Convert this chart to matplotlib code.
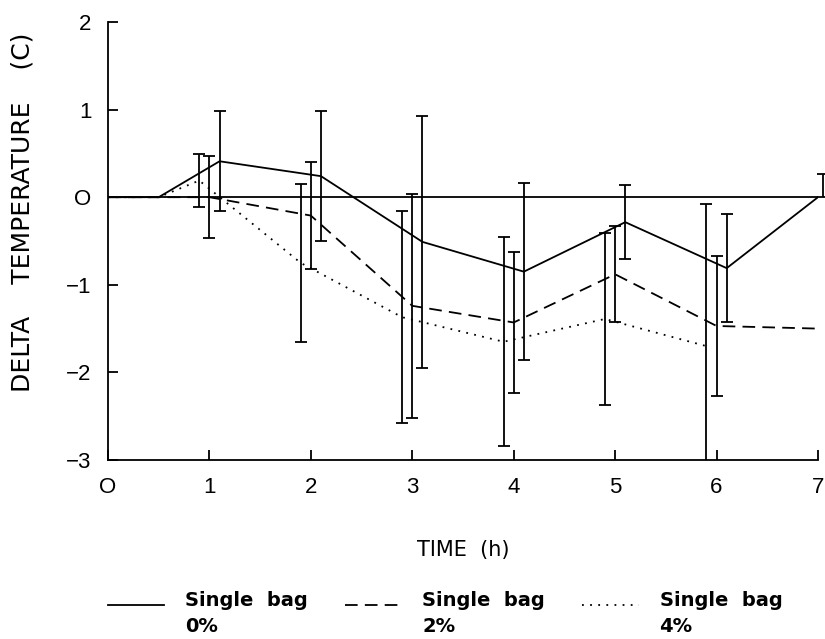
import matplotlib
matplotlib.use("Agg")
import matplotlib.pyplot as plt

plt.rcParams['font.family'] = ['Liberation Sans', 'DejaVu Sans']

# time points (h) for each series, offset slightly so the error bars don't overlap
t_0 = [0, 0.5, 1.1, 2.1, 3.1, 4.1, 5.1, 6.1, 7.0]
t_2 = [0, 0.5, 1.0, 2.0, 3.0, 4.0, 5.0, 6.0, 7.0]
t_4 = [0, 0.5, 0.9, 1.9, 2.9, 3.9, 4.9, 5.9]

# mean change in temperature (C)
d_0 = [0, 0, 0.41, 0.24, -0.51, -0.85, -0.285, -0.81, 0.0]
d_2 = [0, 0, 0.0, -0.21, -1.24, -1.43, -0.88, -1.47, -1.50]
d_4 = [0, 0, 0.19, -0.75, -1.37, -1.65, -1.39, -1.70]

# standard deviations at the measured points
sd_0 = [0.57, 0.745, 1.44, 1.01, 0.42, 0.615]
sd_2 = [0.47, 0.61, 1.28, 0.805, 0.55, 0.795]
sd_4 = [0.30, 0.90, 1.21, 1.19, 0.985, 1.62]

# last reading of the 0% bag (upper half only)
t_last = 7.05
d_last = 0.0
sd_last = 0.26

fig = plt.figure(figsize=(8.25, 6.39), dpi=100)
ax = fig.add_axes([0.1309, 0.2801, 0.8606, 0.6855])

ax.axhline(0, color='black', lw=1.3, zorder=1)

l0, = ax.plot(t_0, d_0, color='black', lw=1.3, ls='-')
l2, = ax.plot(t_2, d_2, color='black', lw=1.3, ls=(0, (7, 4)))
l4, = ax.plot(t_4, d_4, color='black', lw=1.3, ls=(0, (1, 3.5)))

ebkw = dict(fmt='none', ecolor='black', elinewidth=1.3, capsize=4.5, capthick=1.3)
ax.errorbar(t_0[2:8], d_0[2:8], yerr=sd_0, **ebkw)
ax.errorbar(t_2[2:8], d_2[2:8], yerr=sd_2, **ebkw)
ax.errorbar(t_4[2:8], d_4[2:8], yerr=sd_4, **ebkw)
last = ax.errorbar([t_last], [d_last], yerr=[[0], [sd_last]], **ebkw)
for art in last.get_children():
    art.set_clip_on(False)

ax.set_xlim(0, 7)
ax.set_ylim(-3, 2)
ax.set_xticks(range(0, 8))
ax.set_yticks(range(-3, 3))
ax.set_xticklabels(['O', '1', '2', '3', '4', '5', '6', '7'])
ax.set_yticklabels(['\u22123', '\u22122', '\u22121', 'O', '1', '2'])

for side in ['top', 'right']:
    ax.spines[side].set_visible(False)
for side in ['left', 'bottom']:
    ax.spines[side].set_linewidth(1.3)
ax.tick_params(direction='in', length=7, width=1.3, labelsize=16, pad=12)

ax.set_xlabel('TIME  (h)', fontsize=15, family='DejaVu Sans')
ax.xaxis.set_label_coords(0.5, -0.183)
ax.set_ylabel('DELTA    TEMPERATURE    (C)', fontsize=18, family='DejaVu Sans')
ax.yaxis.set_label_coords(-0.103, 0.566)

# handleheight lifts the key line up to the first text row
leg = ax.legend([l0, l2, l4], ['Single  bag\n0%', 'Single  bag\n2%', 'Single  bag\n4%'],
                ncol=3, frameon=False, loc='upper left', bbox_to_anchor=(0.0, -0.294),
                borderaxespad=0, borderpad=0, handleheight=3.9,
                handlelength=2.9, handletextpad=1.08, columnspacing=1.9,
                prop=dict(family='DejaVu Sans', weight='bold', size=14))
for txt in leg.get_texts():
    txt.set_linespacing(1.45)

fig.savefig('out.png', dpi=100)
